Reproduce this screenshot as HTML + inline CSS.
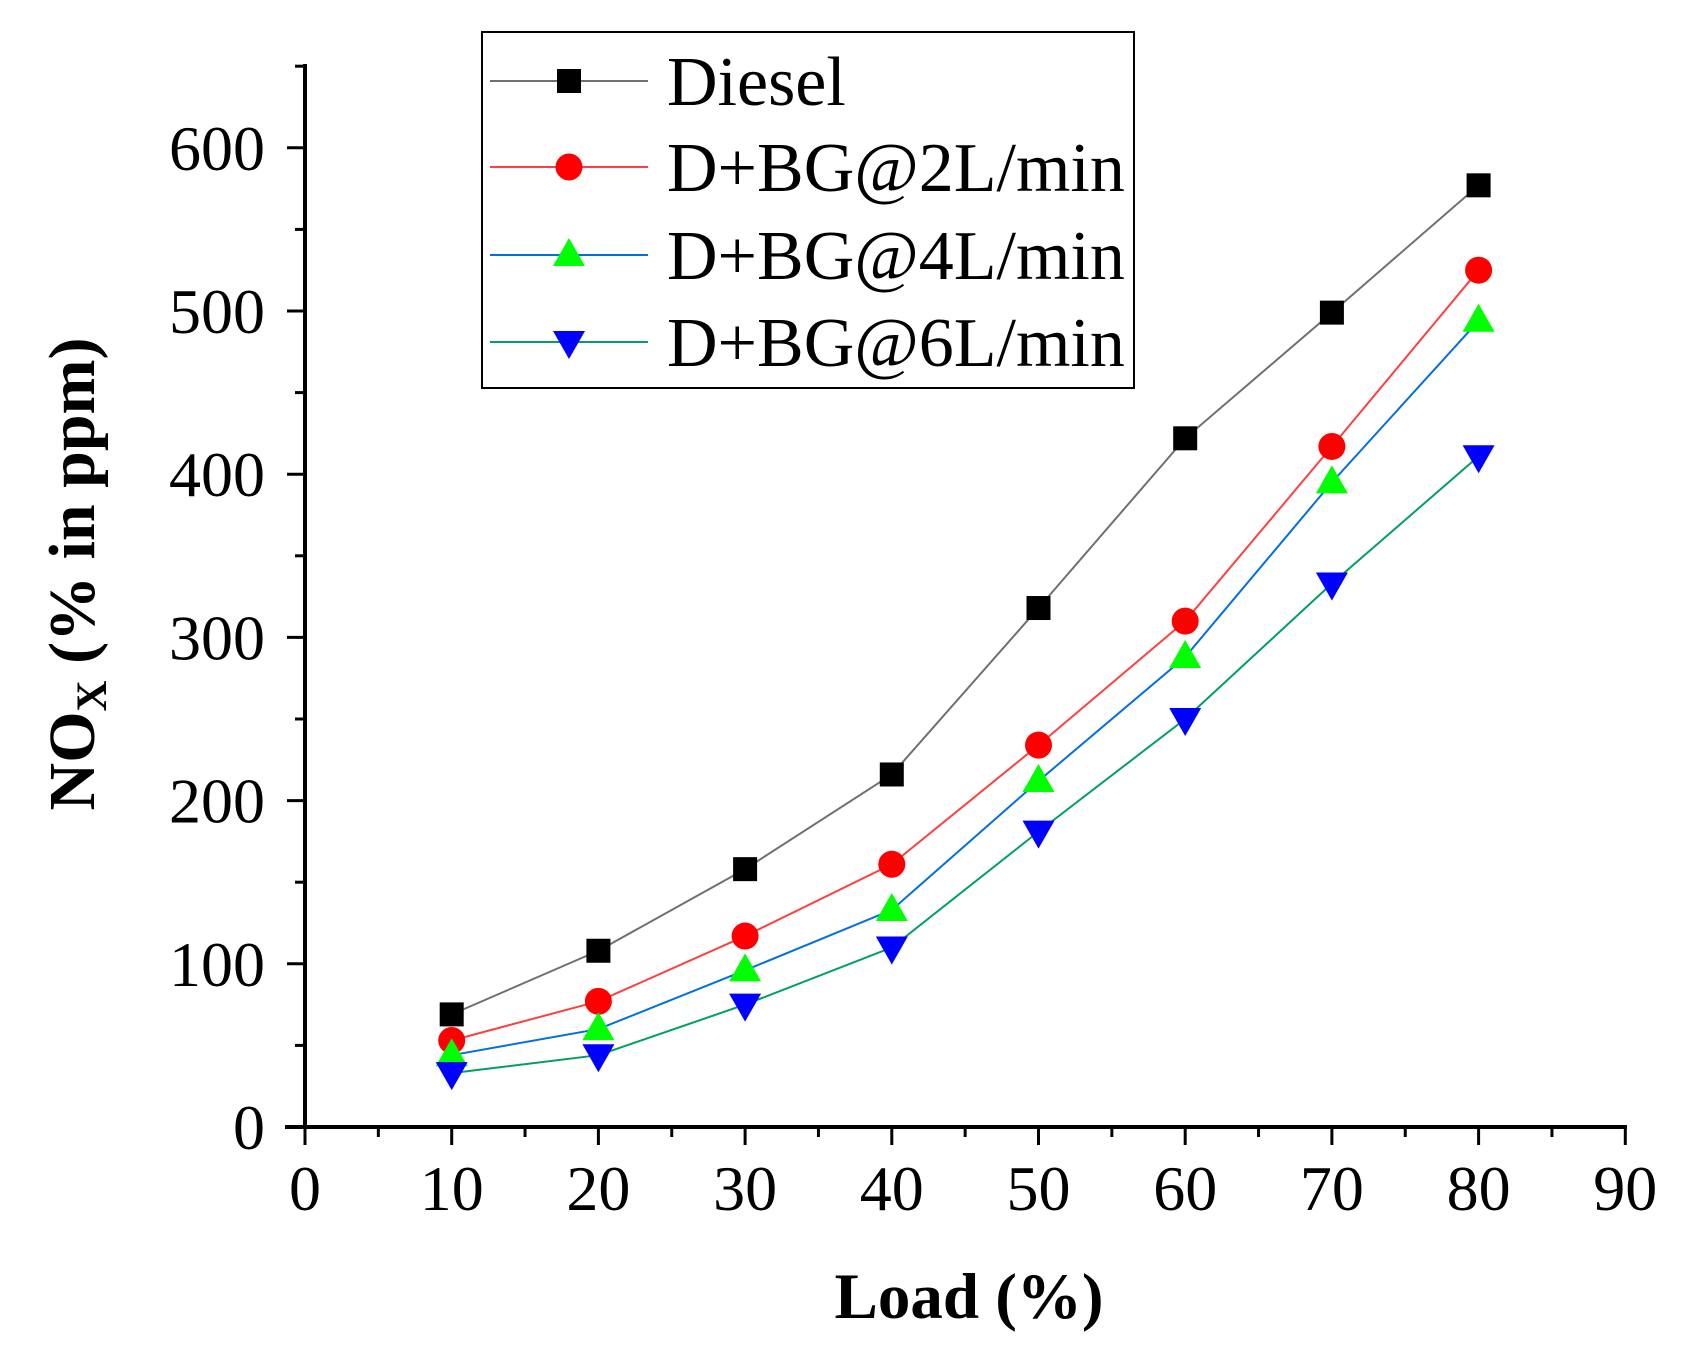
<!DOCTYPE html>
<html><head><meta charset="utf-8"><style>
html,body{margin:0;padding:0;background:#fff}
svg{display:block}
text{font-family:"Liberation Serif",serif;fill:#000}
</style></head><body>
<svg width="1691" height="1345" viewBox="0 0 1691 1345" xmlns="http://www.w3.org/2000/svg">
<defs>
<g id="sq"><rect x="-12" y="-12" width="24" height="24" fill="#000"/></g>
<g id="ci"><circle r="13.5" fill="#ff0000"/></g>
<g id="tu"><polygon points="0,-17 16,11 -16,11" fill="#00ff00"/></g>
<g id="td"><polygon points="0,17 16,-11 -16,-11" fill="#0000ff"/></g>
</defs>
<g stroke="#000" stroke-width="4" fill="none">
<line x1="305" y1="64" x2="305" y2="1127"/>
<line x1="285" y1="1127" x2="1627" y2="1127"/>
</g>
<g stroke="#000" stroke-width="3" id="ticks"></g>
<g id="labels" font-size="64"></g>
<text x="969" y="1318" font-size="65" font-weight="bold" text-anchor="middle">Load (%)</text>
<text transform="translate(94,574) rotate(-90)" font-size="66" font-weight="bold" text-anchor="middle">NO<tspan font-size="43" dy="12">X</tspan><tspan dy="-12"> (% in ppm)</tspan></text>
<g id="series"></g>
<rect x="482" y="32" width="652" height="356" fill="none" stroke="#000" stroke-width="2"/>
<g stroke-width="2">
<line x1="490" y1="81" x2="648" y2="81" stroke="#707070"/>
<line x1="490" y1="167" x2="648" y2="167" stroke="#ff4040"/>
<line x1="490" y1="255" x2="648" y2="255" stroke="#0070e0"/>
<line x1="490" y1="342" x2="648" y2="342" stroke="#00a060"/>
</g>
<use href="#sq" x="569" y="81"/><use href="#ci" x="569" y="167"/><use href="#tu" x="569" y="255"/><use href="#td" x="569" y="342"/>
<g font-size="70">
<text x="667" y="105">Diesel</text>
<text x="667" y="191">D+BG@2L/min</text>
<text x="667" y="279">D+BG@4L/min</text>
<text x="667" y="366">D+BG@6L/min</text>
</g>
</svg>
<script>
var ns="http://www.w3.org/2000/svg";
function X(v){return 305+v*14.67}
function Y(v){return 1127-v*1.632}
function el(t,a,p,txt){var e=document.createElementNS(ns,t);for(var k in a)e.setAttribute(k,a[k]);if(txt!=null)e.textContent=txt;document.getElementById(p).appendChild(e);return e}
for(var v=0;v<=90;v+=5){var L=v%10==0?18:10;el('line',{x1:X(v),y1:1127,x2:X(v),y2:1127+L},'ticks');}
for(var v=0;v<=90;v+=10)el('text',{x:X(v),y:1210,'text-anchor':'middle'},'labels',String(v));
for(var v=0;v<=650;v+=50){var L=v%100==0?18:10;el('line',{x1:305,y1:Y(v),x2:305-L,y2:Y(v)},'ticks');}
for(var v=0;v<=600;v+=100)el('text',{x:265,y:Y(v)+22,'text-anchor':'end'},'labels',String(v));
var xs=[10,20,30,40,50,60,70,80];
var S=[
 {d:[69,108,158,216,318,422,499,577],c:'#707070',m:'#sq'},
 {d:[53,77,117,161,234,310,417,525],c:'#ff4040',m:'#ci'},
 {d:[44,60,96,133,212,288,395,494],c:'#0070e0',m:'#tu'},
 {d:[33,44,75,110,181,250,333,411],c:'#00a060',m:'#td'}];
S.forEach(function(s){var p=xs.map(function(x,i){return X(x)+','+Y(s.d[i])}).join(' ');
 el('polyline',{points:p,fill:'none',stroke:s.c,'stroke-width':2},'series');});
S.forEach(function(s){xs.forEach(function(x,i){el('use',{href:s.m,x:X(x),y:Y(s.d[i])},'series');});});
</script>
</body></html>
